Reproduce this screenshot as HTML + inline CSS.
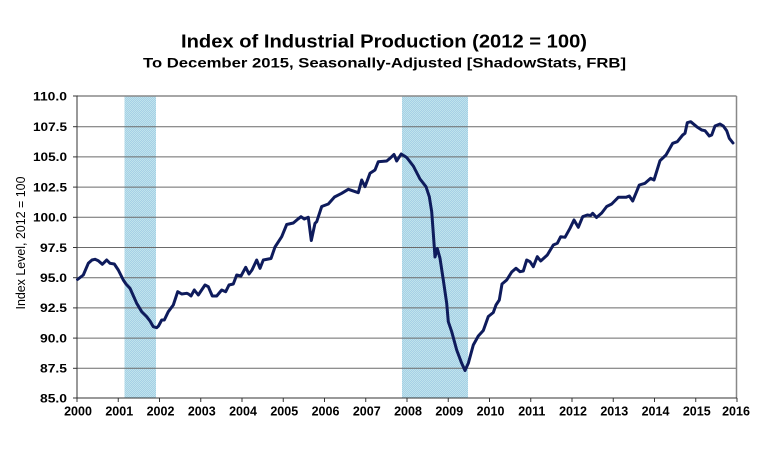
<!DOCTYPE html>
<html>
<head>
<meta charset="utf-8">
<style>
  html, body { margin: 0; padding: 0; background: #ffffff; }
  body { width: 781px; height: 463px; overflow: hidden; }
  svg { display: block; }
  text { font-family: "Liberation Sans", Arial, sans-serif; fill: #000; }
</style>
</head>
<body>
<svg width="781" height="463" viewBox="0 0 781 463" xmlns="http://www.w3.org/2000/svg">
  <defs>
    <pattern id="chk" width="2" height="2" patternUnits="userSpaceOnUse">
      <rect x="0" y="0" width="2" height="2" fill="#a6cfe6"/>
      <rect x="0" y="0" width="1" height="1" fill="#bfe4ec"/>
      <rect x="1" y="1" width="1" height="1" fill="#bfe4ec"/>
    </pattern>
  </defs>
  <rect width="781" height="463" fill="#ffffff"/>

  <!-- Titles -->
  <text x="181" y="47.5" font-size="18.5" font-weight="bold" textLength="406" lengthAdjust="spacingAndGlyphs">Index of Industrial Production (2012 = 100)</text>
  <text x="143" y="67.5" font-size="14" font-weight="bold" textLength="483" lengthAdjust="spacingAndGlyphs">To December 2015, Seasonally-Adjusted [ShadowStats, FRB]</text>

  <!-- Recession bands -->
  <rect x="124.5" y="96" width="31.5" height="302" fill="url(#chk)"/>
  <rect x="402" y="96" width="66" height="302" fill="url(#chk)"/>

  <!-- Gridlines -->
  <g stroke="#6a6a6a" stroke-width="1">
    <line x1="77" y1="126.7" x2="736" y2="126.7"/>
    <line x1="77" y1="156.9" x2="736" y2="156.9"/>
    <line x1="77" y1="187.1" x2="736" y2="187.1"/>
    <line x1="77" y1="217.3" x2="736" y2="217.3"/>
    <line x1="77" y1="247.5" x2="736" y2="247.5"/>
    <line x1="77" y1="277.7" x2="736" y2="277.7"/>
    <line x1="77" y1="307.9" x2="736" y2="307.9"/>
    <line x1="77" y1="338.1" x2="736" y2="338.1"/>
    <line x1="77" y1="368.3" x2="736" y2="368.3"/>
  </g>
  <!-- Plot border -->
  <line x1="77" y1="96" x2="736.5" y2="96" stroke="#888" stroke-width="1.5"/>
  <line x1="736.5" y1="96" x2="736.5" y2="398" stroke="#888" stroke-width="1.5"/>
  <line x1="77" y1="95.5" x2="77" y2="398" stroke="#333" stroke-width="1"/>
  <line x1="77" y1="398" x2="737" y2="398" stroke="#333" stroke-width="1"/>

  <!-- Y ticks -->
  <g stroke="#333" stroke-width="1">
    <line x1="73" y1="96" x2="77" y2="96"/>
    <line x1="73" y1="126.7" x2="77" y2="126.7"/>
    <line x1="73" y1="156.9" x2="77" y2="156.9"/>
    <line x1="73" y1="187.1" x2="77" y2="187.1"/>
    <line x1="73" y1="217.3" x2="77" y2="217.3"/>
    <line x1="73" y1="247.5" x2="77" y2="247.5"/>
    <line x1="73" y1="277.7" x2="77" y2="277.7"/>
    <line x1="73" y1="307.9" x2="77" y2="307.9"/>
    <line x1="73" y1="338.1" x2="77" y2="338.1"/>
    <line x1="73" y1="368.3" x2="77" y2="368.3"/>
    <line x1="73" y1="398" x2="77" y2="398"/>
  </g>
  <!-- X ticks -->
  <g stroke="#333" stroke-width="1">
    <line x1="77" y1="398" x2="77" y2="402"/>
    <line x1="118.25" y1="398" x2="118.25" y2="402"/>
    <line x1="159.5" y1="398" x2="159.5" y2="402"/>
    <line x1="200.75" y1="398" x2="200.75" y2="402"/>
    <line x1="242" y1="398" x2="242" y2="402"/>
    <line x1="283.25" y1="398" x2="283.25" y2="402"/>
    <line x1="324.5" y1="398" x2="324.5" y2="402"/>
    <line x1="365.75" y1="398" x2="365.75" y2="402"/>
    <line x1="407" y1="398" x2="407" y2="402"/>
    <line x1="448.25" y1="398" x2="448.25" y2="402"/>
    <line x1="489.5" y1="398" x2="489.5" y2="402"/>
    <line x1="530.75" y1="398" x2="530.75" y2="402"/>
    <line x1="572" y1="398" x2="572" y2="402"/>
    <line x1="613.25" y1="398" x2="613.25" y2="402"/>
    <line x1="654.5" y1="398" x2="654.5" y2="402"/>
    <line x1="695.75" y1="398" x2="695.75" y2="402"/>
    <line x1="737" y1="398" x2="737" y2="402"/>
  </g>

  <!-- Y labels -->
  <g font-size="12" font-weight="bold" text-anchor="end">
    <text x="67" y="100.3" textLength="34" lengthAdjust="spacingAndGlyphs">110.0</text>
    <text x="67" y="131" textLength="34" lengthAdjust="spacingAndGlyphs">107.5</text>
    <text x="67" y="161.2" textLength="34" lengthAdjust="spacingAndGlyphs">105.0</text>
    <text x="67" y="191.4" textLength="34" lengthAdjust="spacingAndGlyphs">102.5</text>
    <text x="67" y="221.6" textLength="34" lengthAdjust="spacingAndGlyphs">100.0</text>
    <text x="67" y="251.8" textLength="27" lengthAdjust="spacingAndGlyphs">97.5</text>
    <text x="67" y="282" textLength="27" lengthAdjust="spacingAndGlyphs">95.0</text>
    <text x="67" y="312.2" textLength="27" lengthAdjust="spacingAndGlyphs">92.5</text>
    <text x="67" y="342.4" textLength="27" lengthAdjust="spacingAndGlyphs">90.0</text>
    <text x="67" y="372.6" textLength="27" lengthAdjust="spacingAndGlyphs">87.5</text>
    <text x="67" y="402.3" textLength="27" lengthAdjust="spacingAndGlyphs">85.0</text>
  </g>

  <!-- X labels -->
  <g font-size="12.5" font-weight="bold" text-anchor="middle">
    <text x="78" y="415.5">2000</text>
    <text x="119.25" y="415.5">2001</text>
    <text x="160.5" y="415.5">2002</text>
    <text x="201.75" y="415.5">2003</text>
    <text x="243" y="415.5">2004</text>
    <text x="284.25" y="415.5">2005</text>
    <text x="325.5" y="415.5">2006</text>
    <text x="366.75" y="415.5">2007</text>
    <text x="408" y="415.5">2008</text>
    <text x="449.25" y="415.5">2009</text>
    <text x="490.5" y="415.5">2010</text>
    <text x="531.75" y="415.5">2011</text>
    <text x="573" y="415.5">2012</text>
    <text x="614.25" y="415.5">2013</text>
    <text x="655.5" y="415.5">2014</text>
    <text x="696.75" y="415.5">2015</text>
    <text x="736" y="415.5">2016</text>
  </g>

  <!-- Y axis title -->
  <text transform="translate(25,243) rotate(-90)" font-size="12.5" text-anchor="middle" textLength="133" lengthAdjust="spacingAndGlyphs">Index Level, 2012 = 100</text>

  <!-- Data line -->
  <polyline fill="none" stroke="#0e1b5c" stroke-width="3" stroke-linejoin="round" stroke-linecap="round"
    points="77.5,279.5 83.3,275 88.3,263.3 92,260 95,259.3 98.3,260.7 102.3,264.3 106.7,260 110,263.3 114.3,264 118.3,270 123.3,280 126,284 130,288.3 133,295 136.7,303.3 141.7,311.7 146.7,316.7 150,321 153.3,326.7 156.7,327.7 158.5,326 161.7,320 164.3,320 168.3,311.7 173.3,305 177.7,291.7 181.7,294 186.7,293.3 188.5,294 191,296 194.3,290 198.3,295 205,285 208.3,286.7 212.3,296 216.7,296 221.7,290 225.7,291.7 229,285 233.3,284 236.7,275 241,276 245.7,267.3 249,274 252,270 256.7,260 260,268.3 263.3,260 271,258.5 275,247 281.7,236.7 286.7,224.5 293.3,223 298,219 301,216.7 304.3,219 308.3,217.3 311.3,240.5 315,223.3 316.7,221.7 321.7,206.5 328.3,204 334.5,197 341.7,193.3 348.3,189.3 358.3,192.7 361.7,180 365,186.7 370,173.3 375,170 378.3,161.7 386.7,161 390,158.3 394,154.5 396.7,161 401.2,154 406.7,157.5 413.3,166 420,179 426,186.7 429.3,196.7 431.7,211.7 433.3,233.3 435,257 437.3,248.5 440,258.3 443.3,280 446.7,303.3 448.3,321.7 451.7,331.7 456.7,350 461.7,363.3 465,370.5 468.3,363.3 473.3,345 478.3,336 483.3,330.5 488.3,316.5 493.3,312.5 496,305 499.3,300 502,284 506.7,280 511.7,272 516,268.3 520,271.7 523.3,271 526.7,260 530,261.7 533.3,266.7 537.3,256.7 540.7,261 547.3,255 553.3,245 557.3,243.3 560.7,236.7 565,237.3 570,228.3 574,220 578.3,227.3 582.7,216.7 587.3,215 590.7,215.5 592.7,213.3 596.5,217.5 601.7,213 606.7,206.5 611.7,204 618.3,197.3 626,197.3 629.3,196 632.7,201 639.3,185 645,183.3 650.7,178.3 654,180 660,160.7 666,155 672.7,143.3 677.3,141.7 682.7,135 685,133.3 687.3,122.7 690.7,121.7 696.7,126.7 701.7,130 705,130.7 709.3,136 711.7,135 715,126 720,124 723.3,126 726.7,130.7 729.3,138.3 733,143"/>
</svg>
</body>
</html>
